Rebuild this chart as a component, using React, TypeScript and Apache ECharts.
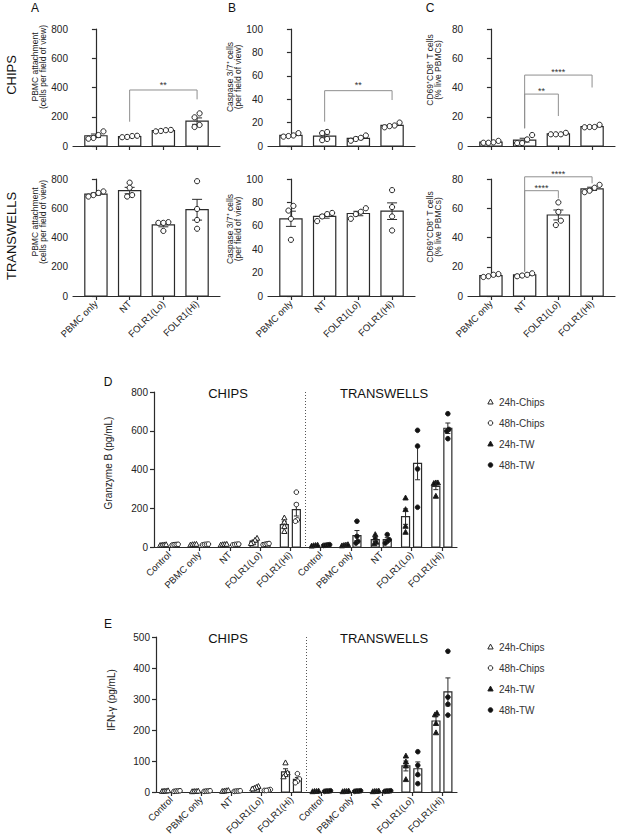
import React, { useEffect, useRef } from "react";
import * as echarts from "echarts";

const FONT = 'Arial, "Liberation Sans", Helvetica, sans-serif';
const INK = "#2b2b2b";

// ---------- Panels A–C ----------
const topCats = ["PBMC only", "NT", "FOLR1(Lo)", "FOLR1(Hi)"];

// A: PBMC attachment
const attachChipsMean = [70, 65, 105, 170];
const attachChipsSem = [12, 3, 2.5, 22];
const attachChipsPts = [[100, 75, 55, 50], [70, 68, 62, 60], [110, 108, 103, 100], [223, 196, 144, 130]];
const attachTwMean = [697, 721, 487, 590];
const attachTwSem = [8, 22, 14, 71];
const attachTwPts = [[715, 705, 690, 680], [775, 740, 690, 680], [505, 500, 500, 445], [785, 595, 520, 460]];

// B: Caspase 3/7+
const casChipsMean = [9, 8.5, 6.5, 17.6];
const casChipsSem = [0.7, 1.7, 1, 0.8];
const casChipsPts = [[11, 9, 8.5, 8], [12, 11, 6, 5], [9, 7, 6, 4.5], [20, 17.5, 17, 16]];
const casTwMean = [66, 68, 70.5, 72.5];
const casTwSem = [6.5, 1.5, 1.9, 7.1];
const casTwPts = [[77, 73, 66, 48], [71, 70, 68, 64], [75, 72, 70, 66], [90.5, 76, 68, 56]];

// C: CD69+CD8+ T cells
const cdChipsMean = [2.6, 4, 8.25, 13.3];
const cdChipsSem = [0.3, 1.3, 0.25, 0.4];
const cdChipsPts = [[3.5, 2.5, 2.2, 2.2], [7.5, 4.5, 2, 2], [9, 8, 8, 8], [14.5, 13, 13, 12.8]];
const cdTwMean = [14, 14.4, 55.4, 73.3];
const cdTwSem = [0.45, 0.45, 3.4, 1.1];
const cdTwPts = [[15, 14.5, 13.5, 13], [15.5, 14.5, 14, 13.5], [64, 57.5, 51.5, 48.5], [76, 74, 72, 71]];

// significance brackets: [leftX, leftBottom, rightX, top, rightBottom]
const attachChipsBrackets = [[1, 166, 3, 383, 319]];
const casChipsBrackets = [[1, 20.8, 3, 47.3, 39.3]];
const cdChipsBrackets = [[1, 12.1, 3, 48.5, 40], [1, 12.1, 2, 35.5, 20.5]];
const cdTwBrackets = [[1, 16.6, 3, 81.5, 77], [1, 16.6, 2, 72, 66.7]];
// stars: [x, y], text
const attachChipsStars = [[2, 429]];
const attachChipsStarText = ["**"];
const casChipsStars = [[2, 53.6]];
const casChipsStarText = ["**"];
const cdChipsStars = [[2, 52], [1.5, 38.7]];
const cdChipsStarText = ["****", "**"];
const cdTwStars = [[2, 85], [1.5, 75.2]];
const cdTwStarText = ["****", "****"];

// ---------- Panels D–E ----------
const groupNames = ["Control", "PBMC only", "NT", "FOLR1(Lo)", "FOLR1(Hi)"];
const dCats = [...groupNames, ...groupNames];
const legendNames = ["24h-Chips", "48h-Chips", "24h-TW", "48h-TW"];

// D: Granzyme B (pg/mL)
const gzChips24Mean = [10, 12, 12, 30, 115];
const gzChips24Sem = [1, 1, 1, 6, 15];
const gzChips24Pts = [[8, 10, 11, 12], [10, 12, 13, 14], [10, 12, 13, 14], [45, 35, 22, 18], [150, 128, 105, 80]];
const gzChips48Mean = [12, 13, 13, 15, 193];
const gzChips48Sem = [1, 1, 1, 1, 33];
const gzChips48Pts = [[10, 12, 13, 14], [11, 13, 14, 15], [11, 13, 14, 15], [12, 14, 16, 18], [283, 219, 140, 133]];
const gzTw24Mean = [7, 9, 38, 157, 313];
const gzTw24Sem = [1, 1, 10, 40, 17];
const gzTw24Pts = [[5, 7, 8, 9], [6, 8, 10, 12], [64, 46, 25, 17], [253, 193, 107, 76], [331, 331, 328, 262]];
const gzTw48Mean = [10, 59, 38, 432, 613];
const gzTw48Sem = [1, 26, 10, 85, 27];
const gzTw48Pts = [[8, 9, 11, 12], [133, 55, 29, 20], [64, 38, 29, 20], [602, 521, 403, 205], [688, 607, 598, 559]];

// E: IFN-γ (pg/mL)
const ifChips24Mean = [3, 2, 3, 14, 65];
const ifChips24Sem = [0.5, 0.5, 0.8, 2, 10];
const ifChips24Pts = [[2, 3, 3, 4], [1, 2, 2, 3], [2, 3, 4, 5], [18, 15, 12, 10], [94, 62, 56, 49]];
const ifChips48Mean = [3, 3, 3, 6, 41];
const ifChips48Sem = [0.5, 0.5, 0.5, 0.8, 6];
const ifChips48Pts = [[2, 3, 3, 4], [2, 3, 3, 4], [2, 3, 3, 4], [8, 6, 5, 5], [59, 42, 35, 30]];
const ifTw24Mean = [2, 2, 2, 84, 229];
const ifTw24Sem = [0.3, 0.3, 0.3, 16, 14];
const ifTw24Pts = [[1, 2, 2, 3], [1, 2, 2, 3], [1, 2, 2, 3], [116, 97, 84, 40], [254, 249, 221, 191]];
const ifTw48Mean = [3, 3, 3, 75, 323];
const ifTw48Sem = [0.5, 0.5, 0.5, 22, 45];
const ifTw48Pts = [[2, 3, 3, 4], [2, 3, 3, 4], [2, 3, 3, 4], [130, 86, 56, 27], [454, 306, 283, 248]];

// ---------- helpers ----------
function swarm(vals: number[], pxPerUnit: number, minGap: number, step: number): number[] {
  const idx = vals.map((_, i) => i).sort((a, b) => vals[a] - vals[b]);
  const offs = new Array(vals.length).fill(0);
  let cluster = [idx[0]];
  const flush = () => {
    const n = cluster.length;
    cluster.forEach((id, j) => (offs[id] = (j - (n - 1) / 2) * step));
  };
  for (let k = 1; k < idx.length; k++) {
    const prev = idx[k - 1];
    const cur = idx[k];
    if ((vals[cur] - vals[prev]) * pxPerUnit < minGap) cluster.push(cur);
    else {
      flush();
      cluster = [cur];
    }
  }
  flush();
  return offs;
}

function markerShape(kind: number, cx: number, cy: number, r: number) {
  const filled = kind >= 2;
  const style = { fill: filled ? "#111" : "#fff", stroke: "#222", lineWidth: 1 };
  if (kind === 0 || kind === 3) {
    return { type: "circle", shape: { cx, cy, r }, style };
  }
  const h = r * 1.15;
  return {
    type: "polygon",
    shape: { points: [[cx, cy - h * 1.1], [cx - h, cy + h * 0.75], [cx + h, cy + h * 0.75]] },
    style,
  };
}

function barSeries(gi: number, data: number[][], widthFrac: number, offFrac: number, capPx: number) {
  return {
    type: "custom",
    xAxisIndex: gi,
    yAxisIndex: gi,
    silent: true,
    z: 2,
    data,
    renderItem: (_p: any, api: any) => {
      const x = api.value(0);
      const m = api.value(1);
      const s = api.value(2);
      const slot = api.value(3);
      const band = api.size([1, 0])[0];
      const p = api.coord([x, m]);
      const b = api.coord([x, 0]);
      const cx = p[0] + slot * offFrac * band;
      const w = widthFrac * band;
      const yt = api.coord([x, m + s])[1];
      const yb = api.coord([x, Math.max(0, m - s)])[1];
      const ls = { stroke: INK, lineWidth: 1 };
      return {
        type: "group",
        children: [
          { type: "rect", shape: { x: cx - w / 2, y: p[1], width: w, height: b[1] - p[1] }, style: { fill: "#fff", stroke: INK, lineWidth: 1.2 } },
          { type: "line", shape: { x1: cx, y1: yt, x2: cx, y2: yb }, style: ls },
          { type: "line", shape: { x1: cx - capPx / 2, y1: yt, x2: cx + capPx / 2, y2: yt }, style: ls },
          { type: "line", shape: { x1: cx - capPx / 2, y1: yb, x2: cx + capPx / 2, y2: yb }, style: ls },
        ],
      };
    },
  };
}

function pointSeries(gi: number, data: number[][], offFrac: number, r: number) {
  return {
    type: "custom",
    xAxisIndex: gi,
    yAxisIndex: gi,
    silent: true,
    z: 3,
    data,
    renderItem: (_p: any, api: any) => {
      const x = api.value(0);
      const v = api.value(1);
      const slot = api.value(2);
      const dx = api.value(3);
      const kind = api.value(4);
      const band = api.size([1, 0])[0];
      const p = api.coord([x, v]);
      return markerShape(kind, p[0] + slot * offFrac * band + dx, p[1], r);
    },
  };
}

function bracketSeries(gi: number, data: number[][]) {
  return {
    type: "custom",
    xAxisIndex: gi,
    yAxisIndex: gi,
    silent: true,
    z: 4,
    clip: false,
    data,
    renderItem: (_p: any, api: any) => {
      const a = api.coord([api.value(0), api.value(1)]);
      const t1 = api.coord([api.value(0), api.value(3)]);
      const t2 = api.coord([api.value(2), api.value(3)]);
      const b = api.coord([api.value(2), api.value(4)]);
      return {
        type: "polyline",
        shape: { points: [a, t1, t2, b] },
        style: { stroke: "#8f8f8f", lineWidth: 1, fill: "none" },
      };
    },
  };
}

function starSeries(gi: number, data: number[][], texts: string[]) {
  return {
    type: "custom",
    xAxisIndex: gi,
    yAxisIndex: gi,
    silent: true,
    z: 4,
    clip: false,
    data,
    renderItem: (p: any, api: any) => {
      const c = api.coord([api.value(0), api.value(1)]);
      return {
        type: "text",
        x: c[0],
        y: c[1] + 2,
        style: { text: texts[p.dataIndex], align: "center", verticalAlign: "middle", fontSize: 9, fontFamily: FONT, fill: "#333" },
      };
    },
  };
}

function separatorSeries(gi: number, yMax: number) {
  return {
    type: "custom",
    xAxisIndex: gi,
    yAxisIndex: gi,
    silent: true,
    z: 1,
    data: [[4, 5]],
    renderItem: (_p: any, api: any) => {
      const a = api.coord([api.value(0), 0]);
      const b = api.coord([api.value(1), 0]);
      const t = api.coord([api.value(0), yMax]);
      const x = (a[0] + b[0]) / 2;
      return {
        type: "line",
        shape: { x1: x, y1: t[1], x2: x, y2: a[1] },
        style: { stroke: "#555", lineWidth: 1, lineDash: [1, 2] },
      };
    },
  };
}

const axisLineStyle = { color: INK, width: 1.2 };

const topPanels = [
  { left: 73, top: 29, yMax: 800, interval: 200, name: "PBMC attachment\n(cells per field of view)", nameY: 67, mean: attachChipsMean, sem: attachChipsSem, pts: attachChipsPts, labels: false },
  { left: 268, top: 29, yMax: 100, interval: 20, name: "Caspase 3/7\u207A cells\n(per field of view)", nameY: 77, mean: casChipsMean, sem: casChipsSem, pts: casChipsPts, labels: false },
  { left: 468, top: 29, yMax: 80, interval: 20, name: "CD69\u207ACD8\u207A T cells\n(% live PBMCs)", nameY: 70, mean: cdChipsMean, sem: cdChipsSem, pts: cdChipsPts, labels: false },
  { left: 73, top: 179, yMax: 800, interval: 200, name: "PBMC attachment\n(cells per field of view)", nameY: 222, mean: attachTwMean, sem: attachTwSem, pts: attachTwPts, labels: true },
  { left: 268, top: 179, yMax: 100, interval: 20, name: "Caspase 3/7\u207A cells\n(per field of view)", nameY: 229, mean: casTwMean, sem: casTwSem, pts: casTwPts, labels: true },
  { left: 468, top: 179, yMax: 80, interval: 20, name: "CD69\u207ACD8\u207A T cells\n(% live PBMCs)", nameY: 227, mean: cdTwMean, sem: cdTwSem, pts: cdTwPts, labels: true },
];
const TOP_W = 147;
const TOP_H = 117;

const bottomPanels = [
  {
    left: 154, top: 392, width: 303, height: 155, yMax: 800, interval: 200, name: "Granzyme B (pg/mL)", nameX: 108, nameY: 463,
    c24: [gzChips24Mean, gzChips24Sem, gzChips24Pts], c48: [gzChips48Mean, gzChips48Sem, gzChips48Pts],
    t24: [gzTw24Mean, gzTw24Sem, gzTw24Pts], t48: [gzTw48Mean, gzTw48Sem, gzTw48Pts],
  },
  {
    left: 156, top: 637, width: 301, height: 155, yMax: 500, interval: 100, name: "IFN-\u03B3 (pg/mL)", nameX: 111, nameY: 700,
    c24: [ifChips24Mean, ifChips24Sem, ifChips24Pts], c48: [ifChips48Mean, ifChips48Sem, ifChips48Pts],
    t24: [ifTw24Mean, ifTw24Sem, ifTw24Pts], t48: [ifTw48Mean, ifTw48Sem, ifTw48Pts],
  },
];

function buildOption() {
  const grid: any[] = [];
  const xAxis: any[] = [];
  const yAxis: any[] = [];
  const series: any[] = [];
  const graphic: any[] = [];

  const rotText = (text: string, x: number, y: number, fontSize: number, lineHeight?: number) => ({
    type: "text",
    x,
    y,
    rotation: Math.PI / 2,
    style: { text, align: "center", verticalAlign: "middle", fontSize, lineHeight, fontFamily: FONT, fill: "#222" },
  });

  topPanels.forEach((pn, gi) => {
    grid.push({ left: pn.left, top: pn.top, width: TOP_W, height: TOP_H });
    xAxis.push({
      type: "value",
      gridIndex: gi,
      min: -0.68,
      max: 3.68,
      splitLine: { show: false },
      axisLine: { show: true, lineStyle: axisLineStyle },
      axisTick: { show: true, length: 4, customValues: [0, 1, 2, 3], lineStyle: axisLineStyle },
      axisLabel: {
        show: pn.labels,
        customValues: [0, 1, 2, 3],
        formatter: (v: number) => topCats[Math.round(v)],
        rotate: 45,
        fontSize: 9.5,
        color: "#222",
        margin: 6,
        fontFamily: FONT,
      },
    });
    yAxis.push({
      type: "value",
      gridIndex: gi,
      min: 0,
      max: pn.yMax,
      interval: pn.interval,
      splitLine: { show: false },
      axisLine: { show: true, lineStyle: axisLineStyle },
      axisTick: { show: true, length: 4, lineStyle: axisLineStyle },
      axisLabel: { fontSize: 10, color: "#222", margin: 5, fontFamily: FONT },
    });
    graphic.push(rotText(pn.name, pn.left - 34, pn.nameY, 8.5, 8.5));
    const ppu = TOP_H / pn.yMax;
    series.push(barSeries(gi, pn.mean.map((m, k) => [k, m, pn.sem[k], 0]), 0.66, 0, 10));
    const pdata: number[][] = [];
    pn.pts.forEach((arr, k) => {
      const offs = swarm(arr, ppu, 5, 5);
      arr.forEach((v, j) => pdata.push([k, v, 0, offs[j], 0]));
    });
    series.push(pointSeries(gi, pdata, 0, 2.6));
  });

  series.push(bracketSeries(0, attachChipsBrackets));
  series.push(starSeries(0, attachChipsStars, attachChipsStarText));
  series.push(bracketSeries(1, casChipsBrackets));
  series.push(starSeries(1, casChipsStars, casChipsStarText));
  series.push(bracketSeries(2, cdChipsBrackets));
  series.push(starSeries(2, cdChipsStars, cdChipsStarText));
  series.push(bracketSeries(5, cdTwBrackets));
  series.push(starSeries(5, cdTwStars, cdTwStarText));

  bottomPanels.forEach((pn, bi) => {
    const gi = topPanels.length + bi;
    grid.push({ left: pn.left, top: pn.top, width: pn.width, height: pn.height });
    xAxis.push({
      type: "category",
      gridIndex: gi,
      data: dCats,
      boundaryGap: true,
      axisLine: { show: true, lineStyle: axisLineStyle },
      axisTick: { show: true, alignWithLabel: true, length: 4, lineStyle: axisLineStyle },
      axisLabel: { interval: 0, rotate: 45, fontSize: 9.5, color: "#222", margin: 6, fontFamily: FONT },
    });
    yAxis.push({
      type: "value",
      gridIndex: gi,
      min: 0,
      max: pn.yMax,
      interval: pn.interval,
      splitLine: { show: false },
      axisLine: { show: true, lineStyle: axisLineStyle },
      axisTick: { show: true, length: 4, lineStyle: axisLineStyle },
      axisLabel: { fontSize: 10, color: "#222", margin: 6, fontFamily: FONT },
    });
    graphic.push(rotText(pn.name, pn.nameX, pn.nameY, 10));
    const ppu = pn.height / pn.yMax;
    const wf = 0.264;
    const of = 0.198;
    const bars24: number[][] = [];
    const bars48: number[][] = [];
    const pts: number[][] = [];
    const add = (set: any, start: number, slot: number, kind: number, target: number[][]) => {
      const [mean, sem, p] = set;
      (mean as number[]).forEach((m, k) => {
        target.push([start + k, m, sem[k], slot]);
        const arr = p[k] as number[];
        const offs = swarm(arr, ppu, 3, 2);
        arr.forEach((v, j) => pts.push([start + k, v, slot, offs[j], kind]));
      });
    };
    add(pn.c24, 0, -1, 1, bars24);
    add(pn.t24, 5, -1, 2, bars24);
    add(pn.c48, 0, 1, 0, bars48);
    add(pn.t48, 5, 1, 3, bars48);
    series.push(separatorSeries(gi, pn.yMax));
    series.push(barSeries(gi, bars24, wf, of, 5));
    series.push(barSeries(gi, bars48, wf, of, 5));
    series.push(pointSeries(gi, pts, of, 2.3));

    // section titles
    const ty = pn.top + 1;
    graphic.push({ type: "text", x: 228, y: ty, style: { text: "CHIPS", align: "center", verticalAlign: "middle", fontSize: 13, fontFamily: FONT, fill: "#111" } });
    graphic.push({ type: "text", x: 384, y: ty, style: { text: "TRANSWELLS", align: "center", verticalAlign: "middle", fontSize: 13, fontFamily: FONT, fill: "#111" } });

    // legend
    const lx = 490.5;
    const ly = pn.top + 10;
    const kinds = [1, 0, 2, 3];
    legendNames.forEach((nm, i) => {
      const y = ly + i * 21;
      graphic.push(markerShape(kinds[i], lx, y, 2.3));
      graphic.push({ type: "text", x: lx + 8.5, y, style: { text: nm, align: "left", verticalAlign: "middle", fontSize: 10, fontFamily: FONT, fill: "#333" } });
    });
  });

  // panel letters & row labels
  const letter = (t: string, x: number, y: number) => ({ type: "text", x, y, style: { text: t, align: "center", verticalAlign: "middle", fontSize: 12, fontFamily: FONT, fill: "#111" } });
  graphic.push(letter("A", 35, 8));
  graphic.push(letter("B", 232, 8));
  graphic.push(letter("C", 430, 8));
  graphic.push(letter("D", 108, 382));
  graphic.push(letter("E", 108, 624));
  graphic.push({ type: "text", x: 11, y: 75, rotation: Math.PI / 2, style: { text: "CHIPS", align: "center", verticalAlign: "middle", fontSize: 13, fontFamily: FONT, fill: "#111" } });
  graphic.push({ type: "text", x: 11, y: 236, rotation: Math.PI / 2, style: { text: "TRANSWELLS", align: "center", verticalAlign: "middle", fontSize: 13, fontFamily: FONT, fill: "#111" } });

  return {
    animation: false,
    backgroundColor: "#fff",
    textStyle: { fontFamily: FONT },
    grid,
    xAxis,
    yAxis,
    series,
    graphic,
  };
}

export default function App() {
  const ref = useRef<HTMLDivElement>(null);
  useEffect(() => {
    if (!ref.current) return;
    const chart = echarts.init(ref.current, undefined, { renderer: "svg" });
    chart.setOption(buildOption() as any);
    return () => chart.dispose();
  }, []);
  return <div ref={ref} style={{ position: "absolute", left: 0, top: 0, width: 617, height: 839, background: "#fff" }} />;
}
